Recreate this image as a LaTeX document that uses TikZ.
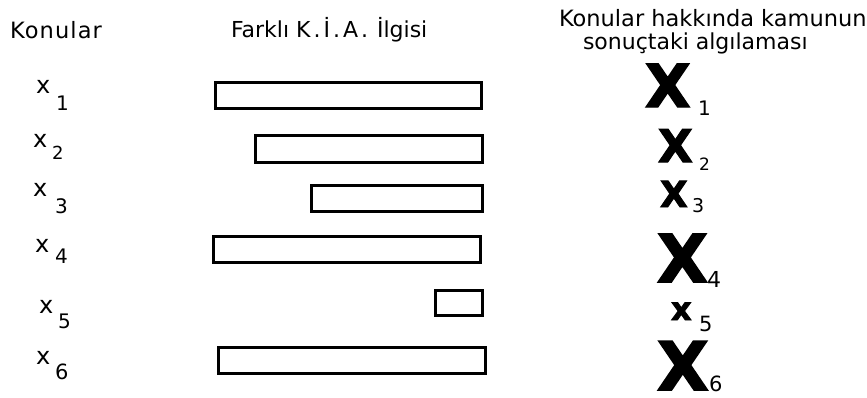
\documentclass[tikz,border=0pt]{standalone}
\usepackage{fontspec}
\setmainfont{DejaVu Sans}
\newfontfamily\heavyx{DejaVu Sans Bold}[FakeBold=2.5]
\begin{document}
\begin{tikzpicture}[x=1pt,y=-1pt,
  bar/.style={draw=black,line width=3pt,fill=white},
  lbl/.style={anchor=base west,inner sep=0pt,outer sep=0pt,font=#1},
  lbl/.default={\fontsize{22.5}{26}\selectfont},
  smallx/.style={anchor=base west,inner sep=0pt,outer sep=0pt,font={\fontsize{24}{26}\selectfont}},
  bigx/.style={anchor=base west,inner sep=0pt,outer sep=0pt,font={\heavyx\fontsize{#1}{#1}\selectfont}},
  sub/.style={anchor=base west,inner sep=0pt,outer sep=0pt,font={\fontsize{#1}{#1}\selectfont}}]
\useasboundingbox[fill=white] (0,0) rectangle (867,397);
% headers
\node[lbl={\fontsize{22.5}{26}\selectfont\addfontfeature{LetterSpace=5}}] (h1) at (10,38) {Konular};
\node[lbl={\fontsize{22}{24}\selectfont}] (h2) at (231,37) {Farklı K\kern3pt.\kern3ptİ\kern3pt.\kern3ptA\kern3pt.\kern2pt\ İlgisi};
\node[lbl] (h3a) at (559,26) {Konular hakkında kamunun};
\node[lbl={\fontsize{22}{26}\selectfont}] (h3b) at (583,49) {sonuçtaki algılaması};
% left labels
\node[smallx] (x1) at (36,93) {x};
\node[sub=20] (n1) at (56,110) {1};
\node[smallx] (x2) at (33,147) {x};
\node[sub=18] (n2) at (52,159) {2};
\node[smallx] (x3) at (33,196) {x};
\node[sub=20] (n3) at (55,213) {3};
\node[smallx] (x4) at (35,252) {x};
\node[sub=20] (n4) at (55,263) {4};
\node[smallx] (x5) at (39,313) {x};
\node[sub=20] (n5) at (58,328) {5};
\node[smallx] (x6) at (36,364) {x};
\node[sub=21] (n6) at (55,379) {6};
% bars
\draw[bar] (215,82) rectangle (481,108);
\draw[bar] (255,135) rectangle (482,162);
\draw[bar] (311,185) rectangle (482,211);
\draw[bar] (213,236) rectangle (480,262);
\draw[bar] (435,290) rectangle (482,315);
\draw[bar] (218,347) rectangle (485,373);
% right labels
\node[bigx=59] (X1) at (645,107) {X};
\node[sub=20] (s1) at (698,115) {1};
\node[bigx=45] (X2) at (658,162) {X};
\node[sub=17] (s2) at (699,170) {2};
\node[bigx=36] (X3) at (660,207) {X};
\node[sub=19] (s3) at (692,212) {3};
\node[bigx=66] (X4) at (657,282) {X};
\node[sub=22] (s4) at (707,287) {4};
\node[bigx=32] (X5) at (671,320) {x};
\node[sub=21] (s5) at (699,331) {5};
\node[bigx=67] (X6) at (657,390) {X};
\node[sub=21] (s6) at (709,391) {6};
\end{tikzpicture}
\end{document}
